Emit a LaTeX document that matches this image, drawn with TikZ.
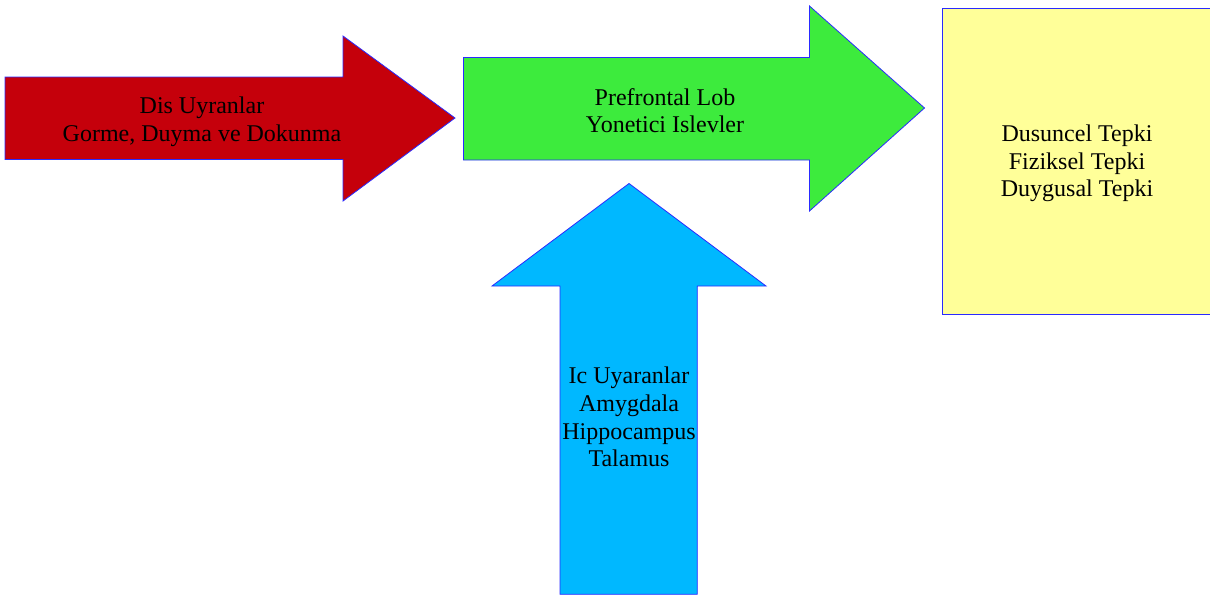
\documentclass[tikz,border=0pt]{standalone}
\usepackage{fontspec}
\setmainfont{Liberation Serif}
\definecolor{redfill}{HTML}{C5000B}
\definecolor{greenfill}{HTML}{3DEB3D}
\definecolor{bluefill}{HTML}{00B8FF}
\definecolor{yellowfill}{HTML}{FFFF99}
\definecolor{edge}{HTML}{2A2AFF}
\tikzset{
  shapeline/.style={draw=edge, line width=0.8pt, line join=miter},
  label/.style={font=\fontsize{24}{27.6}\selectfont, align=center, inner sep=0pt, text=black}
}
\begin{document}
\begin{tikzpicture}[x=1pt,y=-1pt]
\useasboundingbox (0,0) rectangle (1210,595);
% yellow box
\path[shapeline, fill=yellowfill] (942,8) rectangle (1214,314);
\node[label] (tepki) at (1077,163.5) {Dusuncel Tepki\\Fiziksel Tepki\\Duygusal Tepki};
% red arrow
\path[shapeline, fill=redfill] (5,77) -- (343,77) -- (343,36) -- (455,118) -- (343,201) -- (343,159.5) -- (5,159.5) -- cycle;
\node[label] (dis) at (202,121.5) {Dis Uyranlar\\Gorme, Duyma ve Dokunma};
% green arrow
\path[shapeline, fill=greenfill] (463.5,57.5) -- (809.5,57.5) -- (809.5,6) -- (924.5,108) -- (809.5,211) -- (809.5,160) -- (463.5,160) -- cycle;
\node[label] (pfl) at (665,110.5) {Prefrontal Lob\\Yonetici Islevler};
% blue arrow
\path[shapeline, fill=bluefill] (560,594.3) -- (560,286) -- (492,286) -- (629,183.5) -- (766,286) -- (697.3,286) -- (697.3,594.3) -- cycle;
\node[label] (ic) at (629,417) {Ic Uyaranlar\\Amygdala\\Hippocampus\\Talamus};
\end{tikzpicture}
\end{document}
